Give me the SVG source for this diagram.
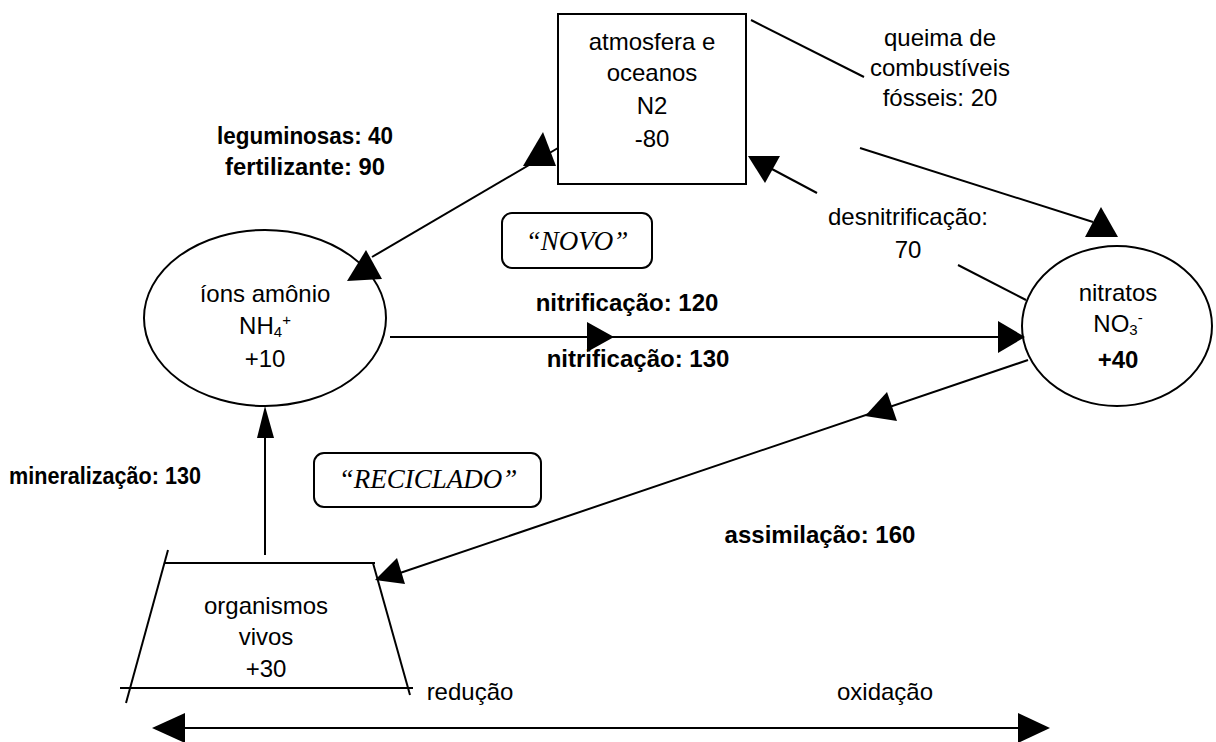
<svg xmlns="http://www.w3.org/2000/svg" width="1216" height="742" viewBox="0 0 1216 742">
<style>
.t{font-family:"Liberation Sans",Arial,sans-serif;font-size:24px;fill:#000;text-anchor:middle}
.b{font-family:"Liberation Sans",Arial,sans-serif;font-size:24px;font-weight:bold;fill:#000;text-anchor:middle}
.s{font-family:"Liberation Serif","DejaVu Serif",serif;font-style:italic;font-size:27px;fill:#000;text-anchor:middle}
.ln{stroke:#000;stroke-width:2;fill:none}
.sh{stroke:#000;stroke-width:2;fill:#fff}
.ah{fill:#000;stroke:none}
</style>
<rect width="1216" height="742" fill="#fff"/>
<g id="atmosfera">
<rect class="sh" x="558" y="14" width="188" height="170"/>
<text class="t" x="652" y="50">atmosfera e</text>
<text class="t" x="652" y="81">oceanos</text>
<text class="t" x="652" y="114">N2</text>
<text class="t" x="652" y="147">-80</text>
</g>
<g id="queima">
<text class="t" x="940" y="46">queima de</text>
<text class="t" x="940" y="76">combustíveis</text>
<text class="t" x="940" y="106">fósseis: 20</text>
</g>
<g id="leguminosas">
<text class="b" x="305" y="144" textLength="176" lengthAdjust="spacingAndGlyphs" font-size="26">leguminosas: 40</text>
<text class="b" x="305" y="175" textLength="160" lengthAdjust="spacingAndGlyphs" font-size="26">fertilizante: 90</text>
</g>
<g id="novo">
<rect class="ln" x="502" y="213" width="150" height="55" rx="10"/>
<text class="s" x="577" y="250">“NOVO”</text>
</g>
<g id="desnitrificacao">
<text class="t" x="908" y="225">desnitrificação:</text>
<text class="t" x="908" y="258">70</text>
</g>
<g id="ions">
<ellipse class="sh" cx="265" cy="318" rx="121" ry="88"/>
<text class="t" x="265" y="302">íons amônio</text>
<text class="t" x="265" y="334">NH<tspan font-size="15" dy="3">4</tspan><tspan font-size="15" dy="-12">+</tspan></text>
<text class="t" x="265" y="367">+10</text>
</g>
<g id="nitrificacao">
<text class="b" x="627" y="311" font-size="25">nitrificação: 120</text>
<text class="b" x="638" y="367" font-size="25">nitrificação: 130</text>
</g>
<g id="nitratos">
<ellipse class="sh" cx="1117" cy="326" rx="95" ry="80"/>
<text class="t" x="1118" y="301">nitratos</text>
<text class="t" x="1118" y="332">NO<tspan font-size="15" dy="3">3</tspan><tspan font-size="15" dy="-12">-</tspan></text>
<text class="b" x="1118" y="368">+40</text>
</g>
<g id="assimilacao">
<text class="b" x="820" y="543">assimilação: 160</text>
</g>
<g id="reciclado">
<rect class="ln" x="314" y="453" width="227" height="54" rx="10"/>
<text class="s" x="428" y="488">“RECICLADO”</text>
</g>
<g id="mineralizacao">
<text class="b" x="105" y="484" font-size="26" textLength="192" lengthAdjust="spacingAndGlyphs">mineralização: 130</text>
</g>
<g id="organismos">
<line class="ln" x1="165" y1="563" x2="375" y2="563"/>
<line class="ln" x1="168" y1="550" x2="126" y2="703"/>
<line class="ln" x1="373" y1="563" x2="410" y2="695"/>
<line class="ln" x1="120" y1="688" x2="413" y2="688"/>
<text class="t" x="266" y="614">organismos</text>
<text class="t" x="266" y="645">vivos</text>
<text class="t" x="266" y="677">+30</text>
</g>
<g id="eixo">
<text class="t" x="470" y="700">redução</text>
<text class="t" x="885" y="700">oxidação</text>
</g>
<g id="connectors">
<line class="ln" x1="751" y1="20" x2="864" y2="77"/>
<line class="ln" x1="860" y1="148" x2="1093" y2="222"/>
<polygon class="ah" points="1101,207 1085,237 1118,237"/>
<line class="ln" x1="372" y1="257" x2="558" y2="148"/>
<polygon class="ah" points="543,132 523,166 556,166"/>
<polygon class="ah" points="366,250 347,281 382,279"/>
<line class="ln" x1="1026" y1="300" x2="958" y2="265"/>
<line class="ln" x1="817" y1="193" x2="770" y2="168"/>
<polygon class="ah" points="748,156 780,156 765,183"/>
<line class="ln" x1="390" y1="337" x2="1022" y2="337"/>
<polygon class="ah" points="587,322 587,352 614,337"/>
<polygon class="ah" points="998,321 998,353 1025,337"/>
<line class="ln" x1="1028" y1="360" x2="400" y2="573"/>
<polygon class="ah" points="887,392 865,416 897,421"/>
<polygon class="ah" points="397,558 375,580 405,584"/>
<line class="ln" x1="265" y1="555" x2="265" y2="410"/>
<polygon class="ah" points="265,406 257,438 274,438"/>
<line class="ln" x1="160" y1="728" x2="1040" y2="728"/>
<polygon class="ah" points="152,728 185,713 185,743"/>
<polygon class="ah" points="1050,728 1018,713 1018,743"/>
</g>
</svg>
